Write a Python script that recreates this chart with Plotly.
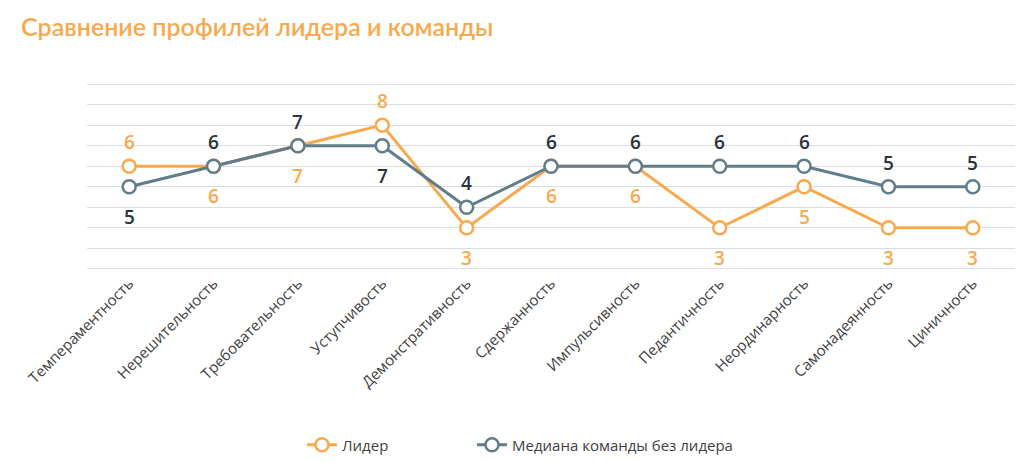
import plotly.graph_objects as go

categories = ["Темпераментность", "Нерешительность", "Требовательность", "Уступчивость",
              "Демонстративность", "Сдержанность", "Импульсивность", "Педантичность",
              "Неординарность", "Самонадеянность", "Циничность"]
leader = [6, 6, 7, 8, 3, 6, 6, 3, 5, 3, 3]
team = [5, 6, 7, 7, 4, 6, 6, 6, 6, 5, 5]
leader_pos = ["above", "below", "below", "above", "below", "below", "below", "below",
              "below", "below", "below"]
team_pos = ["below", "above", "above", "below", "above", "above", "above", "above",
            "above", "above", "above"]

ORANGE = "#F8A94E"
GRAY = "#607D8B"
DARK = "#2B333D"
FONT = "Open Sans"

fig = go.Figure()
fig.add_trace(go.Scatter(
    x=categories, y=leader, name="Лидер", mode="lines+markers",
    line=dict(color=ORANGE, width=3), legend="legend",
    marker=dict(symbol="circle", size=13, color="white", line=dict(color=ORANGE, width=2.5)),
))
fig.add_trace(go.Scatter(
    x=categories, y=team, name="Медиана команды без лидера", mode="lines+markers",
    line=dict(color=GRAY, width=3), legend="legend2",
    marker=dict(symbol="circle", size=13, color="white", line=dict(color=GRAY, width=2.5)),
))

for vals, poss, col in [(leader, leader_pos, ORANGE), (team, team_pos, DARK)]:
    for c, v, p in zip(categories, vals, poss):
        fig.add_annotation(x=c, y=v, text=str(v), showarrow=False,
                           yanchor="middle", xanchor="center",
                           yshift=24 if p == "above" else -30,
                           font=dict(size=19, color=col, family=FONT, weight=600))

legend_common = dict(orientation="h", xanchor="left", xref="container",
                     y=1 - 445/462, yanchor="middle", yref="container",
                     font=dict(size=15, color="#404040", family=FONT),
                     itemwidth=30, bgcolor="rgba(0,0,0,0)")

fig.update_layout(
    width=1035, height=462,
    margin=dict(l=87, r=20, t=82, b=191, autoexpand=False),
    paper_bgcolor="white", plot_bgcolor="white",
    font=dict(family=FONT, color="#444"),
    title=dict(text="Сравнение профилей лидера и команды", x=21/1035, xanchor="left",
               y=1 - 27/462, yanchor="middle", yref="container",
               font=dict(size=25, color=ORANGE, family="Lato", weight=600)),
    xaxis=dict(range=[-0.5, 10.5], tickangle=-45, showgrid=False, showline=False,
               ticks="", automargin=False,
               tickfont=dict(size=15, color="#404040", family=FONT)),
    yaxis=dict(range=[0.9, 10.1], dtick=1, tick0=1, showticklabels=False,
               gridcolor="#D9DDE3", gridwidth=1, zeroline=False, showline=False,
               automargin=False),
    legend=dict(x=302/1035, **legend_common),
    legend2=dict(x=472/1035, **legend_common),
    showlegend=True,
)

fig.write_html("out.html", config={"displayModeBar": False},
               post_script="document.body.style.margin='0';")
